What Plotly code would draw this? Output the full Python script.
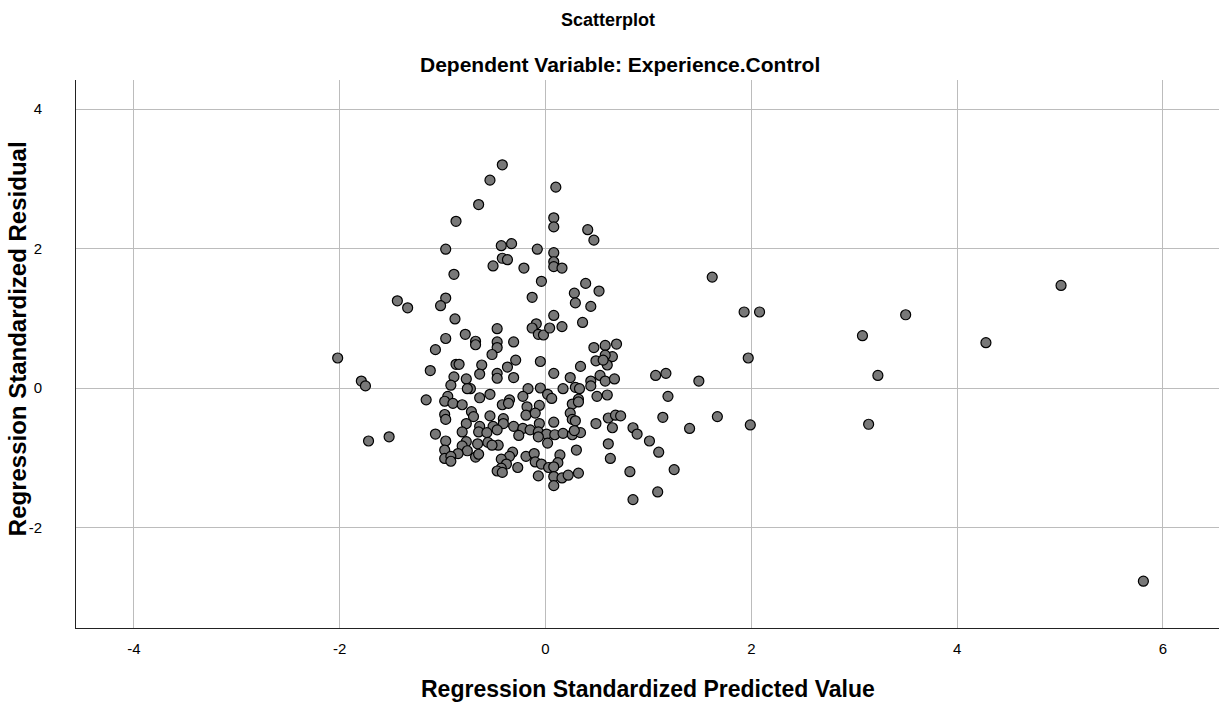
import plotly.graph_objects as go

# Regression Standardized Predicted Value (x) and Residual (y)
pred = [
    -0.65, -0.87, -0.97, -0.89,
    -0.42, -0.54, 0.10, 0.08, 0.08, 0.41, 0.47, -0.43, -0.33, -0.08, 0.08, 0.08, 0.08, 0.16,
    -0.42, -0.37, -0.51, -0.21, -0.04, 0.39,
    0.52, 0.28, 0.29, -0.13, 0.44, 0.08, 0.36, -0.09, -0.13, -0.07, -0.02, 0.04, 0.16, -0.47,
    -0.68, -0.68, -0.47, -0.47, -0.31, -0.52, -0.29, -0.37, -0.62, -0.64, -0.47, -0.47, -0.31,
    -0.05, 0.08, 0.47, 0.58, 0.69, 0.65, 0.58, 0.49, 0.60, 0.56, 0.34, 0.24, 0.44, 0.53, 0.58,
    0.67, 0.44, 0.29, 0.33, 0.17, -0.05, -0.17, -0.22, 0.02, 0.06, -0.54, -0.64, -0.35, 0.32,
    0.50, 0.60, -0.73,
    -1.44, -1.34, -0.97, -1.02, -0.88, -0.78, -0.97, -1.07, -2.02, -0.87, -0.84, -1.12, -0.89,
    -0.77, -0.92, -0.76, -1.79, -1.75, -1.16, -0.95,
    -0.98, -0.90, -0.81, -0.72, -0.70, -0.98, -0.97, -0.77, -0.64, -0.81, -0.65, -1.07, -1.52,
    -1.72, -0.97, -0.77, -0.66, -0.81, -0.76, -0.98, -0.85, -0.98, -0.92, -0.92, -0.68, -0.65,
    -0.42, -0.36, -0.18, -0.06, 0.26, 0.32, -0.54, -0.41, -0.19, -0.10, 0.24, 0.26, 0.29, 0.08,
    -0.06, 0.49, 0.61, 0.68, 0.65, -0.51, -0.41, -0.31, -0.22, -0.15, -0.07, 0.01, 0.09, 0.17,
    0.26, 0.34, 0.28, -0.47, -0.57, -0.26, -0.07, 0.02, -0.56, -0.46, -0.52, 0.61, 0.30, 0.63,
    -0.32, -0.35, -0.43, -0.19, -0.11, -0.10, -0.04, 0.14, 0.12, -0.38, -0.43, -0.47, -0.42,
    -0.27, 0.03, 0.08, -0.07, 0.08, 0.16, 0.22, 0.32, 0.08,
    1.62, 1.93, 2.08, 1.97, 1.07, 1.17, 1.49, 1.19, 0.73, 1.14, 1.67, 1.99, 1.40, 0.85, 0.89,
    1.01, 1.10, 0.82, 1.25, 1.09, 0.85,
    3.50, 3.08, 3.23, 3.14, 4.28, 5.01, 5.81,
]
resid = [
    2.63, 2.39, 1.99, 1.63,
    3.20, 2.98, 2.88, 2.44, 2.31, 2.27, 2.12, 2.04, 2.07, 1.99, 1.94, 1.81, 1.74, 1.72,
    1.86, 1.84, 1.75, 1.72, 1.53, 1.50,
    1.39, 1.36, 1.22, 1.30, 1.17, 1.04, 0.94, 0.92, 0.86, 0.77, 0.76, 0.86, 0.88, 0.85,
    0.67, 0.62, 0.66, 0.58, 0.66, 0.48, 0.40, 0.30, 0.33, 0.20, 0.21, 0.14, 0.15,
    0.38, 0.21, 0.58, 0.61, 0.63, 0.45, 0.47, 0.39, 0.33, 0.40, 0.31, 0.15, 0.10, 0.18, 0.10,
    0.13, 0.03, 0.01, -0.01, -0.01, 0.00, -0.01, -0.12, -0.09, -0.15, -0.09, -0.14, -0.17, -0.16,
    -0.12, -0.10, -0.01,
    1.25, 1.15, 1.29, 1.18, 0.99, 0.77, 0.71, 0.55, 0.43, 0.34, 0.34, 0.25, 0.16,
    0.13, 0.04, -0.01, 0.10, 0.03, -0.17, -0.12,
    -0.19, -0.22, -0.24, -0.34, -0.41, -0.38, -0.45, -0.51, -0.55, -0.63, -0.63, -0.66, -0.70,
    -0.76, -0.76, -0.77, -0.80, -0.83, -0.90, -0.89, -0.94, -1.01, -0.98, -1.05, -0.99, -0.95,
    -0.24, -0.22, -0.27, -0.25, -0.23, -0.20, -0.40, -0.44, -0.39, -0.36, -0.36, -0.45, -0.47, -0.49,
    -0.51, -0.51, -0.43, -0.39, -0.57, -0.55, -0.51, -0.55, -0.58, -0.60, -0.63, -0.66, -0.67, -0.65,
    -0.67, -0.64, -0.61, -0.60, -0.64, -0.68, -0.70, -0.79, -0.78, -0.82, -0.82, -0.80, -0.89, -1.01,
    -0.92, -0.98, -1.02, -0.98, -0.94, -1.06, -1.09, -0.96, -1.07, -1.09, -1.15, -1.19, -1.21,
    -1.14, -1.14, -1.13, -1.26, -1.27, -1.29, -1.25, -1.22, -1.40,
    1.59, 1.09, 1.09, 0.43, 0.18, 0.21, 0.10, -0.12, -0.40, -0.42, -0.41, -0.53, -0.58, -0.57, -0.66,
    -0.76, -0.92, -1.20, -1.17, -1.49, -1.60,
    1.05, 0.75, 0.18, -0.52, 0.65, 1.47, -2.77,
]

x_ticks = [-4, -2, 0, 2, 4, 6]
y_ticks = [-2, 0, 2, 4]

title_text = "Scatterplot"
subtitle_text = "Dependent Variable: Experience.Control"
x_title = "Regression Standardized Predicted Value"
y_title = "Regression Standardized Residual"

FONT = "Liberation Sans, Arial, Helvetica, sans-serif"

fig = go.Figure()
fig.add_trace(go.Scatter(
    x=pred, y=resid, mode="markers",
    marker=dict(size=10, color="#787878", line=dict(color="#000000", width=1.2)),
    showlegend=False, hoverinfo="x+y",
))

grid = "#bcbcbc"
fig.update_layout(
    width=1221, height=704,
    margin=dict(l=76, r=2, t=80, b=76),
    paper_bgcolor="white", plot_bgcolor="white",
    font=dict(family=FONT, color="#000000"),
    xaxis=dict(
        range=[-4.563, 6.545], tickvals=x_ticks, ticktext=[str(v) for v in x_ticks],
        showgrid=True, gridcolor=grid, gridwidth=1, zeroline=False,
        showline=True, linecolor="#222222", linewidth=1,
        ticks="outside", ticklen=7, tickcolor="rgba(0,0,0,0)",
        tickfont=dict(size=15, family=FONT, color="#000000"),
        mirror=False,
    ),
    yaxis=dict(
        range=[-3.441, 4.416], tickvals=y_ticks, ticktext=[str(v) for v in y_ticks],
        showgrid=True, gridcolor=grid, gridwidth=1, zeroline=False,
        showline=True, linecolor="#222222", linewidth=1,
        ticks="outside", ticklen=30, tickcolor="rgba(0,0,0,0)",
        tickfont=dict(size=15, family=FONT, color="#000000"),
        mirror=False,
    ),
    annotations=[
        dict(text="<b>%s</b>" % title_text, xref="paper", yref="paper", x=0.4654, y=1,
             xanchor="center", yanchor="middle", yshift=60, showarrow=False,
             font=dict(size=18, family=FONT, color="#000000")),
        dict(text="<b>%s</b>" % subtitle_text, xref="paper", yref="paper", x=0.476, y=1,
             xanchor="center", yanchor="middle", yshift=16, showarrow=False,
             font=dict(size=21, family=FONT, color="#000000")),
        dict(text="<b>%s</b>" % x_title, xref="paper", yref="paper", x=0.5, y=0,
             xanchor="center", yanchor="middle", yshift=-61, showarrow=False,
             font=dict(size=23, family=FONT, color="#000000")),
        dict(text="<b>%s</b>" % y_title, xref="paper", yref="paper", x=0, y=0.527,
             xanchor="center", yanchor="middle", xshift=-59, textangle=-90, showarrow=False,
             font=dict(size=24, family=FONT, color="#000000")),
    ],
)

fig.write_html("out.html")
